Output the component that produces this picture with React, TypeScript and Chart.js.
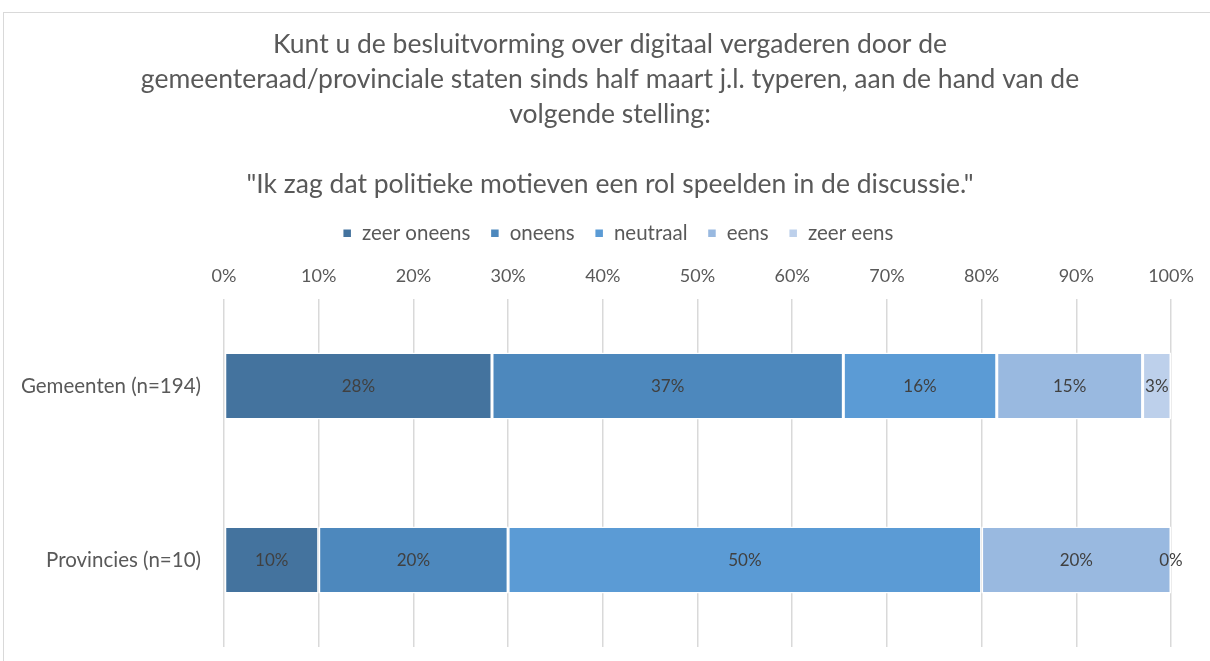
import React, { useEffect, useRef } from "react";
import { Chart, registerables } from "chart.js";

Chart.register(...registerables);

const categories = ["Gemeenten (n=194)", "Provincies (n=10)"];
const seriesNames = ["zeer oneens", "oneens", "neutraal", "eens", "zeer eens"];
const zeerOneens = [28.3, 10];
const oneens = [37.1, 20];
const neutraal = [16.2, 50];
const eens = [15.4, 20];
const zeerEens = [3.0, 0];
const seriesColors = ["#44739e", "#4d88bd", "#5b9bd5", "#99b9e0", "#bdd0eb"];
const xTicks = [0, 10, 20, 30, 40, 50, 60, 70, 80, 90, 100];
const titleLines = [
  "Kunt u de besluitvorming over digitaal vergaderen door de",
  "gemeenteraad/provinciale staten sinds half maart j.l. typeren, aan de hand van de",
  "volgende stelling:",
  "",
  "\"Ik zag dat politieke motieven een rol speelden in de discussie.\"",
];

const FONT = "Lato, 'Open Sans', sans-serif";

const labelPlugin = {
  id: "barLabels",
  afterLayout(chart: any) {
    if (chart.titleBlock) {
      chart.titleBlock.left = 6;
      chart.titleBlock.right = 1206;
    }
    if (chart.legend) {
      chart.legend.left = 22;
      chart.legend.right = 1206;
    }
  },
  afterDatasetsDraw(chart: any) {
    const ctx = chart.ctx;
    ctx.save();
    ctx.font = `17px ${FONT}`;
    ctx.fillStyle = "#404040";
    ctx.textAlign = "center";
    ctx.textBaseline = "middle";
    chart.data.datasets.forEach((ds: any, i: number) => {
      const meta = chart.getDatasetMeta(i);
      meta.data.forEach((bar: any, j: number) => {
        const v = ds.data[j];
        const cx = (bar.x + bar.base) / 2;
        ctx.fillText(Math.round(v) + "%", cx, bar.y);
      });
    });
    ctx.restore();
  },
};

export default function App() {
  const ref = useRef<HTMLCanvasElement | null>(null);
  useEffect(() => {
    if (!ref.current) return;
    const all = [zeerOneens, oneens, neutraal, eens, zeerEens];
    const chart = new Chart(ref.current, {
      type: "bar",
      data: {
        labels: categories,
        datasets: all.map((d, i) => ({
          label: seriesNames[i],
          data: d,
          backgroundColor: seriesColors[i],
          borderColor: "#ffffff",
          borderWidth: 1.5,
          borderSkipped: false,
          barPercentage: 0.385,
          categoryPercentage: 1,
        })),
      },
      options: {
        indexAxis: "y",
        responsive: false,
        animation: false,
        devicePixelRatio: 1,
        layout: { padding: { left: 0, right: 39, top: 0, bottom: 14 } },
        scales: {
          x: {
            position: "top",
            stacked: true,
            min: 0,
            max: 100,
            afterBuildTicks: (s: any) => {
              s.ticks = xTicks.map((v) => ({ value: v }));
            },
            ticks: {
              color: "#595959",
              font: { size: 18, family: FONT },
              callback: (v: any) => v + "%",
              padding: 12,
            },
            grid: { color: "#d9d9d9", lineWidth: 1.5, drawTicks: false },
            border: { display: false },
          },
          y: {
            stacked: true,
            afterFit: (s: any) => {
              s.width = 220;
              s.paddingTop = 0;
              s.paddingBottom = 0;
            },
            ticks: {
              color: "#595959",
              font: { size: 20.5, family: FONT },
              padding: 15,
            },
            grid: { display: false },
            border: { display: false },
          },
        },
        plugins: {
          title: {
            display: true,
            text: titleLines,
            color: "#595959",
            font: { size: 26.5, family: FONT, weight: "normal", lineHeight: 35 / 26.5 },
            padding: { top: 14, bottom: 1 },
          },
          legend: {
            display: true,
            position: "top",
            labels: {
              color: "#595959",
              font: { size: 20.5, family: FONT },
              boxWidth: 9,
              boxHeight: 9,
              padding: 20,
            },
          },
          tooltip: { enabled: false },
        },
      },
      plugins: [labelPlugin],
    } as any);
    return () => chart.destroy();
  }, []);
  return (
    <div
      style={{
        position: "absolute",
        left: 3,
        top: 12,
        width: 1207,
        height: 649,
        borderTop: "1px solid #d9d9d9",
        borderLeft: "1px solid #d9d9d9",
        boxSizing: "border-box",
        overflow: "hidden",
      }}
    >
      <canvas ref={ref} width={1206} height={648} style={{ display: "block" }} />
    </div>
  );
}
